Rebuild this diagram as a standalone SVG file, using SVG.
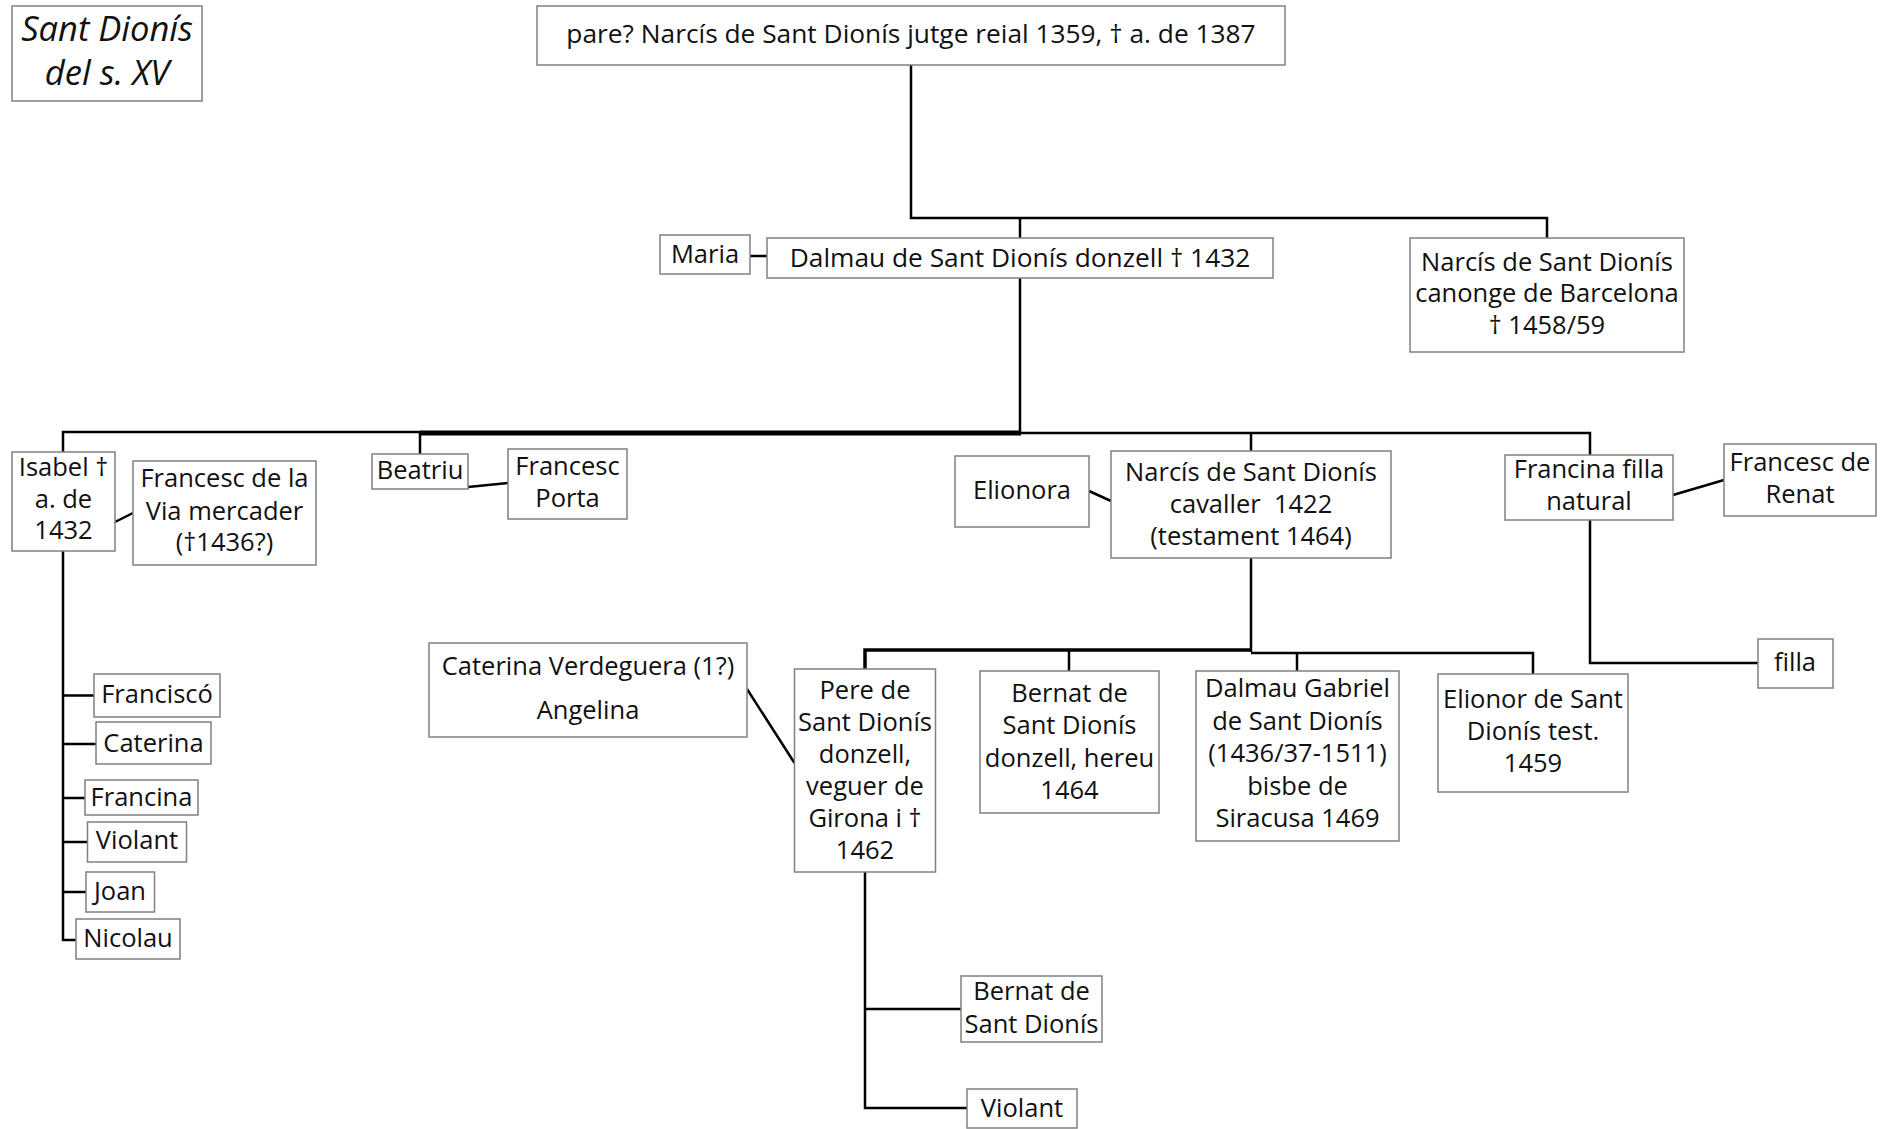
<svg xmlns="http://www.w3.org/2000/svg" width="1894" height="1129" viewBox="0 0 1894 1129">
<style>
rect{fill:#fff;stroke:#808080;stroke-width:1.5}
text{font-family:"Open Sans","Noto Sans","DejaVu Sans",sans-serif;font-size:25.5px;fill:#111;text-anchor:middle}
.t{font-style:italic;font-size:34.5px}
.big{font-size:26.3px}
#connectors path{fill:none;stroke:#000;stroke-width:2.5}
#connectors .thick{stroke-width:5}
</style>
<rect x="0" y="0" width="1894" height="1129" style="fill:#fff;stroke:none"/>
<g id="connectors">
<path d="M911,65 V218 H1547 V238"/>
<path d="M1020,218 V238"/>
<path d="M750,256 H767"/>
<path d="M1020,278 V433"/>
<path d="M63,452 V432 H420 V454"/>
<path class="thick" d="M420,433 H1021"/>
<path d="M1021,433 H1590 V455"/>
<path d="M1251,433 V451"/>
<path d="M115,522 L133,513"/>
<path d="M468,487 L508,483"/>
<path d="M63,551 V940 H76"/>
<path d="M63,695.5 H94 M63,744 H96 M63,798 H85 M63,842 H87.5 M63,892 H86"/>
<path d="M1089,491 L1111,501"/>
<path d="M1673,495 L1724,480"/>
<path d="M1590,520 V663 H1758"/>
<path d="M1251,558 V652"/>
<path d="M865,669 V650 H1251" style="stroke-width:3.5"/>
<path d="M1069,650 V671"/>
<path d="M1251,653 H1533 V674"/>
<path d="M1297,653 V671"/>
<path d="M747,689 L794.5,763"/>
<path d="M865,872 V1108 H967"/>
<path d="M865,1009 H961"/>
</g>
<g id="title"><rect x="12" y="6" width="190" height="95"/><text class="t" x="107" y="41">Sant Dionís</text><text class="t" x="107" y="85">del s. XV</text></g>
<g id="pare"><rect x="537" y="6" width="748" height="59"/><text class="big" x="911" y="43">pare? Narcís de Sant Dionís jutge reial 1359, † a. de 1387</text></g>
<g id="maria"><rect x="660" y="235" width="90" height="39"/><text x="705" y="263">Maria</text></g>
<g id="dalmau"><rect x="767" y="238" width="506" height="40"/><text class="big" x="1020" y="267">Dalmau de Sant Dionís donzell † 1432</text></g>
<g id="narcis-canonge"><rect x="1410" y="238" width="274" height="114"/><text x="1547" y="270.5">Narcís de Sant Dionís</text><text x="1547" y="302">canonge de Barcelona</text><text x="1547" y="333.5">† 1458/59</text></g>
<g id="isabel"><rect x="12" y="452" width="103" height="99"/><text x="63.5" y="476">Isabel †</text><text x="63.5" y="508">a. de</text><text x="63.5" y="539">1432</text></g>
<g id="francesc-via"><rect x="133" y="461" width="183" height="104"/><text x="224.5" y="487">Francesc de la</text><text x="224.5" y="520">Via mercader</text><text x="224.5" y="551">(†1436?)</text></g>
<g id="beatriu"><rect x="372" y="454" width="96" height="35"/><text x="420" y="479">Beatriu</text></g>
<g id="francesc-porta"><rect x="508" y="449" width="119" height="70"/><text x="567.5" y="475">Francesc</text><text x="567.5" y="507">Porta</text></g>
<g id="elionora"><rect x="955" y="456" width="134" height="71"/><text x="1022" y="499">Elionora</text></g>
<g id="narcis-cavaller"><rect x="1111" y="451" width="280" height="107"/><text x="1251" y="481">Narcís de Sant Dionís</text><text x="1251" y="512.5" style="white-space:pre">cavaller  1422</text><text x="1251" y="545">(testament 1464)</text></g>
<g id="francina-filla"><rect x="1505" y="455" width="168" height="65"/><text x="1589" y="478">Francina filla</text><text x="1589" y="510">natural</text></g>
<g id="francesc-renat"><rect x="1724" y="444" width="152" height="72"/><text x="1800" y="471">Francesc de</text><text x="1800" y="503">Renat</text></g>
<g id="filla"><rect x="1758" y="639" width="75" height="49"/><text x="1795" y="671">filla</text></g>
<g id="franciscó"><rect x="94" y="674" width="126" height="43"/><text x="157" y="703">Franciscó</text></g>
<g id="caterina"><rect x="96" y="722" width="115" height="42"/><text x="153.5" y="752">Caterina</text></g>
<g id="francina"><rect x="85" y="780" width="113" height="35"/><text x="141.5" y="806">Francina</text></g>
<g id="violant-1"><rect x="87.5" y="822" width="99" height="40"/><text x="137" y="849">Violant</text></g>
<g id="joan"><rect x="86" y="872" width="68.5" height="40"/><text x="120" y="900">Joan</text></g>
<g id="nicolau"><rect x="76" y="919" width="104" height="40"/><text x="128" y="947">Nicolau</text></g>
<g id="caterina-verdeguera"><rect x="429" y="643" width="318" height="94"/><text x="588" y="675">Caterina Verdeguera (1?)</text><text x="588" y="719">Angelina</text></g>
<g id="pere"><rect x="794.5" y="669" width="141" height="203"/><text x="865" y="699">Pere de</text><text x="865" y="731">Sant Dionís</text><text x="865" y="763">donzell,</text><text x="865" y="795">veguer de</text><text x="865" y="827">Girona i †</text><text x="865" y="859">1462</text></g>
<g id="bernat"><rect x="980" y="671" width="179" height="142"/><text x="1069.5" y="702">Bernat de</text><text x="1069.5" y="734">Sant Dionís</text><text x="1069.5" y="766.5">donzell, hereu</text><text x="1069.5" y="798.5">1464</text></g>
<g id="dalmau-gabriel"><rect x="1196" y="671" width="203" height="170"/><text x="1297.5" y="697">Dalmau Gabriel</text><text x="1297.5" y="729.5">de Sant Dionís</text><text x="1297.5" y="762">(1436/37-1511)</text><text x="1297.5" y="794.5">bisbe de</text><text x="1297.5" y="827">Siracusa 1469</text></g>
<g id="elionor"><rect x="1438" y="674" width="190" height="118"/><text x="1533" y="708">Elionor de Sant</text><text x="1533" y="740">Dionís test.</text><text x="1533" y="772">1459</text></g>
<g id="bernat-sant-dionis"><rect x="961" y="976" width="141" height="66"/><text x="1031.5" y="1000">Bernat de</text><text x="1031.5" y="1033">Sant Dionís</text></g>
<g id="violant-2"><rect x="967" y="1089" width="110" height="39"/><text x="1022" y="1117">Violant</text></g>
</svg>
